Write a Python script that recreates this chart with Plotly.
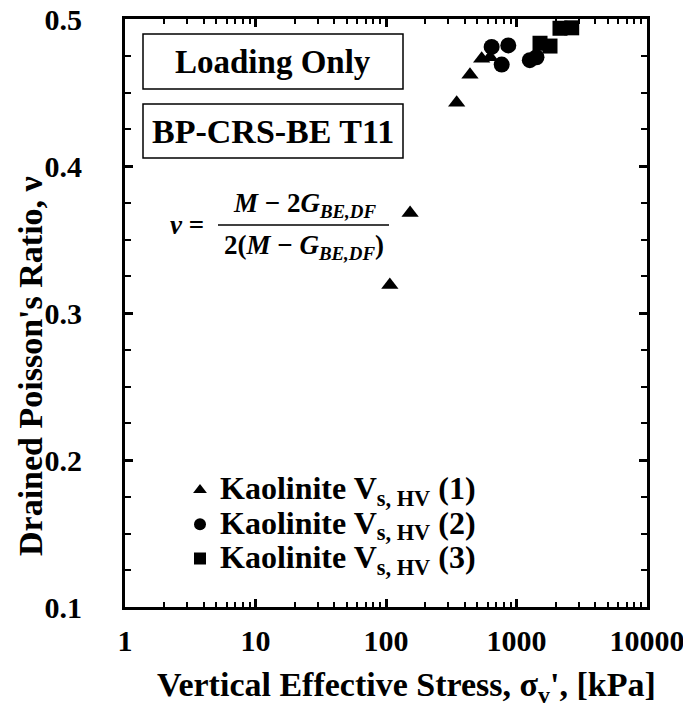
import plotly.graph_objects as go

# ---- data ----
stress_1 = [107, 153, 348, 440, 541, 627]
nu_1 = [0.319, 0.368, 0.443, 0.462, 0.473, 0.474]

stress_2 = [645, 770, 865, 1265, 1423]
nu_2 = [0.481, 0.469, 0.482, 0.472, 0.474]

stress_3 = [1514, 1806, 2154, 2649]
nu_3 = [0.4835, 0.4816, 0.4937, 0.494]

series_names = [
    "Kaolinite V<sub>s, HV</sub> (1)",
    "Kaolinite V<sub>s, HV</sub> (2)",
    "Kaolinite V<sub>s, HV</sub> (3)",
]
x_tick_vals = [1, 10, 100, 1000, 10000]
x_tick_text = ["1", "10", "100", "1000", "10000"]
y_tick_vals = [0.1, 0.2, 0.3, 0.4, 0.5]
y_tick_text = ["0.1", "0.2", "0.3", "0.4", "0.5"]

# the page body adds an 8 px offset; size the figure so the photo is 691x708
OFF = 8
W, H = 691 - OFF, 708 - OFF
ML, MR, MT, MB = 125 - OFF, 44, 19 - OFF, 101
PW, PH = W - ML - MR, H - MT - MB


def px(xp):
    """reference-photo pixel x -> paper coordinate"""
    return (xp - OFF - ML) / PW


def py(yp):
    """reference-photo pixel y -> paper coordinate"""
    return (H - MB - (yp - OFF)) / PH


FONT = "Liberation Serif"
LEG_TXT = 32

fig = go.Figure()
marker_styles = [("triangle-up", 15), ("circle", 16), ("square", 15)]
for (xs, ys), name, (sym, sz) in zip(
    [(stress_1, nu_1), (stress_2, nu_2), (stress_3, nu_3)], series_names, marker_styles
):
    fig.add_trace(
        go.Scatter(
            x=xs, y=ys, mode="markers",
            name=f'<span style="font-size:{LEG_TXT}px">{name}</span>',
            marker=dict(symbol=sym, size=sz, color="black"),
            cliponaxis=False,
        )
    )

axis_common = dict(
    showline=True, linecolor="black", linewidth=3, mirror="ticks",
    ticks="inside", ticklen=8, tickwidth=2.5, tickcolor="black",
    showgrid=False, zeroline=False, automargin=False,
    ticklabeloverflow="allow",
    tickfont=dict(family=FONT, size=30, color="black", weight="bold"),
)

fig.update_xaxes(
    type="log", range=[0, 4], tickvals=x_tick_vals, ticktext=x_tick_text,
    minor=dict(ticks="inside", ticklen=5, tickwidth=2, tickcolor="black",
               dtick="D1", showgrid=False),
    ticklabelstandoff=5,
    **axis_common,
)
fig.update_yaxes(
    range=[0.1, 0.5], tickvals=y_tick_vals, ticktext=y_tick_text,
    minor=dict(ticks="inside", ticklen=6, tickwidth=2, tickcolor="black",
               dtick=0.025, showgrid=False),
    ticklabelstandoff=34,
    **axis_common,
)

annotations = []
shapes = []
# axis titles
title_font = dict(family=FONT, size=34, color="black", weight="bold")
annotations.append(dict(text="Vertical Effective Stress, σ<sub>v</sub>', [kPa]",
                        xref="paper", yref="paper", x=px(406), y=py(687),
                        xanchor="center", yanchor="middle", showarrow=False,
                        font=title_font))
annotations.append(dict(text="Drained Poisson's Ratio, ν",
                        xref="paper", yref="paper", x=px(31), y=py(366),
                        xanchor="center", yanchor="middle", showarrow=False,
                        textangle=-90, font=title_font))

# text boxes
for label, y0, y1, fs in [("Loading Only", 34, 89, 33), ("BP-CRS-BE T11", 104, 158, 34)]:
    shapes.append(dict(type="rect", xref="paper", yref="paper",
                       x0=px(143), x1=px(403), y0=py(y1), y1=py(y0),
                       line=dict(color="black", width=1.5), fillcolor="white",
                       layer="below"))
    annotations.append(dict(text=label, xref="paper", yref="paper",
                            x=px(273), y=py((y0 + y1) / 2),
                            xanchor="center", yanchor="middle", showarrow=False,
                            font=dict(family=FONT, size=fs, color="black", weight="bold")))

# formula
ffont = dict(family=FONT, size=27, color="black", weight="bold")
annotations.append(dict(text="<i>v</i> =", xref="paper", yref="paper",
                        x=px(187), y=py(225), xanchor="center", yanchor="middle",
                        showarrow=False, font=ffont))
annotations.append(dict(text="<i>M</i> − 2<i>G</i><sub><i>BE,DF</i></sub>",
                        xref="paper", yref="paper", x=px(304), y=py(205),
                        xanchor="center", yanchor="middle",
                        showarrow=False, font=ffont))
annotations.append(dict(text="2(<i>M</i> − <i>G</i><sub><i>BE,DF</i></sub>)",
                        xref="paper", yref="paper", x=px(304), y=py(247),
                        xanchor="center", yanchor="middle",
                        showarrow=False, font=ffont))
shapes.append(dict(type="line", xref="paper", yref="paper",
                   x0=px(218), x1=px(389), y0=py(225), y1=py(225),
                   line=dict(color="black", width=1.5)))

fig.update_layout(
    width=W, height=H,
    margin=dict(l=ML, r=MR, t=MT, b=MB),
    paper_bgcolor="white", plot_bgcolor="white",
    showlegend=True,
    legend=dict(x=px(180), y=py(468), xanchor="left", yanchor="top",
                bgcolor="rgba(0,0,0,0)", borderwidth=0,
                font=dict(family=FONT, size=24, color="black", weight="bold"),
                itemsizing="constant", tracegroupgap=0),
    annotations=annotations,
    shapes=shapes,
)

fig.write_html("out.html")
